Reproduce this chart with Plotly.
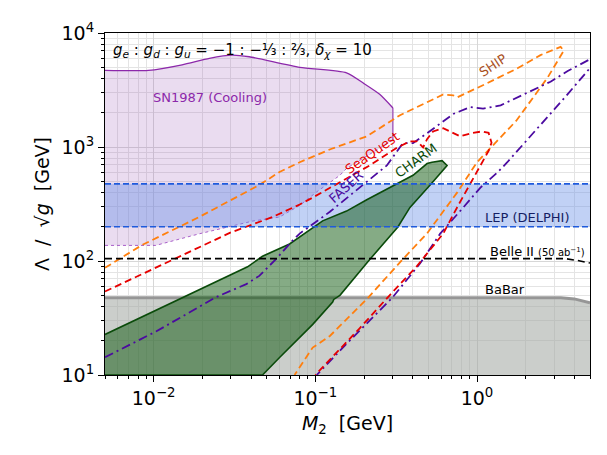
import numpy as np
import plotly.graph_objects as go

# --- data (GeV) ---
sn_up_x = [0.005, 0.0093, 0.015, 0.0221, 0.0306, 0.039, 0.08, 0.156, 0.2, 0.25, 0.302]
sn_up_y = [4700, 4700, 5260, 6000, 6400, 6190, 5000, 4470, 3600, 2900, 2200]
sn_lo_x = [0.005, 0.0103, 0.0191, 0.0294, 0.041, 0.06, 0.08, 0.102, 0.142, 0.156, 0.302]
sn_lo_y = [137, 137, 173, 200, 224, 243, 307, 404, 565, 649, 1150]

lep_lo = 200
lep_hi = 475

belle_x = [0.005, 3.5, 4.2, 5.0]
belle_y = [105, 105, 101, 96]

babar_x = [0.005, 3.3, 4.0, 4.5, 5.0]
babar_y = [47.5, 47.5, 46.5, 44.5, 43]

charm_x = [0.005, 0.0381, 0.0471, 0.0693, 0.111, 0.156, 0.208, 0.32, 0.402, 0.491, 0.527,
           0.608, 0.653, 0.513, 0.385, 0.324, 0.217, 0.142, 0.135, 0.13, 0.128, 0.0964,
           0.0603, 0.0471, 0.005]
charm_y = [22.7, 88.9, 110, 141, 225, 274, 345, 473, 565, 716, 735,
           760, 689, 465, 295, 199, 103, 50, 47.5, 46, 43.7, 27.8,
           14.3, 10, 10]

seaquest_x = [0.005, 0.0138, 0.03, 0.0543, 0.08, 0.0963, 0.142, 0.217, 0.32, 0.385, 0.426,
              0.464, 0.491, 0.535, 0.618, 0.703, 0.788, 0.935, 1.08, 1.18, 1.23, 1.18, 1.05,
              0.92, 0.77, 0.618, 0.426, 0.289, 0.188, 0.1]
seaquest_y = [54, 106, 178, 243, 313, 360, 492, 689, 987, 1120, 1120,
              990, 1170, 1370, 1460, 1330, 1240, 1330, 1370, 1330, 1090, 925, 689,
              500, 313, 174, 90.6, 50.3, 25.7, 10]

faser_x = [0.005, 0.0104, 0.0244, 0.0374, 0.045, 0.0575, 0.0723, 0.08, 0.123, 0.197, 0.277,
           0.348, 0.402, 0.491, 0.592, 0.713, 0.908, 1.09, 1.40, 1.78, 2.24, 2.85, 3.64,
           4.9, 5.6, 5.2, 3.64, 2.24, 1.54, 1.34, 1.05, 0.823, 0.592, 0.444, 0.298, 0.156, 0.102]
faser_y = [14.3, 24.2, 48.3, 62.7, 74, 105, 151, 174, 270, 464, 689,
           1080, 1080, 1320, 1600, 1950, 2240, 2170, 2320, 2730, 3210, 3740, 4640,
           5800, 5800, 5260, 2910, 1330, 735, 600, 440, 295, 174, 95, 47.3, 18.8, 10]

ship_x = [0.005, 0.00847, 0.0191, 0.0294, 0.045, 0.06, 0.08, 0.125, 0.208, 0.334, 0.491,
          0.618, 0.713, 0.755, 1.12, 1.78, 2.47, 3.29, 3.44, 2.73, 1.75, 1.26, 1.0, 0.755,
          0.49, 0.344, 0.211, 0.123, 0.0963, 0.08, 0.0744]
ship_y = [87.1, 138, 243, 334, 464, 603, 735, 961, 1240, 1900, 2470,
          2890, 2840, 2730, 3550, 4900, 6400, 7550, 7000, 4050, 1700, 1050, 735, 400,
          174, 102, 47.3, 22, 17.4, 11.7, 10]

x_ticks = [0.01, 0.1, 1]
x_ticktext = ["10<sup>−2</sup>", "10<sup>−1</sup>", "10<sup>0</sup>"]
y_ticks = [10, 100, 1000, 10000]
y_ticktext = ["10<sup>1</sup>", "10<sup>2</sup>", "10<sup>3</sup>", "10<sup>4</sup>"]

FONT = "DejaVu Sans"
x_lo, x_hi = 0.005, 5.0

fig = go.Figure()

# BaBar (grey region)
fig.add_trace(go.Scatter(x=babar_x + [x_hi, x_lo], y=babar_y + [10, 10], fill="toself",
                         fillcolor="rgba(160,165,160,0.55)", line=dict(width=0), mode="lines",
                         hoverinfo="skip"))
fig.add_trace(go.Scatter(x=babar_x, y=babar_y, mode="lines",
                         line=dict(color="rgb(150,150,150)", width=3)))

# SN1987 cooling
fig.add_trace(go.Scatter(x=sn_up_x + sn_lo_x[::-1], y=sn_up_y + sn_lo_y[::-1], fill="toself",
                         fillcolor="rgba(150,80,180,0.2)", line=dict(width=0), mode="lines"))
fig.add_trace(go.Scatter(x=sn_up_x, y=sn_up_y, mode="lines", line_shape="spline",
                         line=dict(color="rgb(140,40,170)", width=1.3, smoothing=0.6)))
fig.add_trace(go.Scatter(x=sn_lo_x, y=sn_lo_y, mode="lines",
                         line=dict(color="rgb(150,60,190)", width=0.8, dash="dot")))
fig.add_trace(go.Scatter(x=[sn_up_x[-1], sn_lo_x[-1]], y=[sn_up_y[-1], sn_lo_y[-1]], mode="lines",
                         line=dict(color="rgb(140,40,170)", width=1)))

# LEP band
fig.add_trace(go.Scatter(x=[x_lo, x_hi, x_hi, x_lo], y=[lep_lo, lep_lo, lep_hi, lep_hi],
                         fill="toself", fillcolor="rgba(100,140,230,0.4)", line=dict(width=0),
                         mode="lines"))

# CHARM
fig.add_trace(go.Scatter(x=charm_x, y=charm_y, fill="toself", fillcolor="rgba(0,80,0,0.48)",
                         mode="lines", line=dict(color="rgb(10,75,10)", width=1.6)))

# projections
fig.add_trace(go.Scatter(x=ship_x, y=ship_y, mode="lines",
                         line=dict(color="#ff7f0e", width=1.8, dash="7px,4px")))
fig.add_trace(go.Scatter(x=faser_x, y=faser_y, mode="lines",
                         line=dict(color="rgb(75,10,160)", width=1.8, dash="9px,4px,2px,4px")))
fig.add_trace(go.Scatter(x=seaquest_x, y=seaquest_y, mode="lines",
                         line=dict(color="rgb(230,0,0)", width=1.8, dash="7px,4px")))
fig.add_trace(go.Scatter(x=belle_x, y=belle_y, mode="lines",
                         line=dict(color="black", width=1.6, dash="7px,4px")))
for v in [lep_lo, lep_hi]:
    fig.add_trace(go.Scatter(x=[x_lo, x_hi], y=[v, v], mode="lines",
                             line=dict(color="rgb(30,90,220)", width=1.6, dash="6px,3px")))

def label(text, x, y, color, angle=0, size=13):
    fig.add_annotation(x=np.log10(x), y=np.log10(y), text=text, showarrow=False,
                       textangle=angle, font=dict(family=FONT, size=size, color=color))

label("SN1987 (Cooling)", 0.0224, 2730, "rgb(140,40,170)")
label("SHIP", 1.25, 5200, "rgb(170,80,30)", -33)
label("SeaQuest", 0.227, 889, "rgb(230,0,0)", -35)
label("FASER", 0.156, 447, "rgb(75,10,160)", -42)
label("CHARM", 0.42, 759, "rgb(10,75,10)", -36)
label("LEP (DELPHI)", 2.05, 243, "rgb(20,30,100)")
label("Belle II <span style='font-size:10px'>(50 ab<sup>−1</sup>)</span>", 2.37, 122, "black")
label("BaBar", 1.5, 56.5, "black")

fig.add_annotation(xref="paper", yref="paper", x=0.012, y=0.95, xanchor="left", yanchor="middle",
                   showarrow=False,
                   text="<i>g<sub>e</sub></i> : <i>g<sub>d</sub></i> : <i>g<sub>u</sub></i> = −1 : −⅓ : ⅔, <i>δ<sub>χ</sub></i> = 10",
                   font=dict(family=FONT, size=15, color="black"))

axis_common = dict(type="log", showline=True, mirror=True, linecolor="black", linewidth=1.2,
                   ticks="outside", ticklen=6, tickcolor="black",
                   showgrid=True, gridcolor="rgb(215,215,215)", gridwidth=1,
                   minor=dict(ticks="outside", ticklen=3, tickcolor="black", showgrid=True,
                              gridcolor="rgb(228,228,228)", dtick="D1"),
                   tickfont=dict(family=FONT, size=19, color="black"), zeroline=False)

fig.update_xaxes(range=[np.log10(x_lo), np.log10(x_hi)], tickvals=x_ticks, ticktext=x_ticktext,
                 title=dict(text="<i>M</i><sub>2</sub>  [GeV]", font=dict(family=FONT, size=19),
                            standoff=8), **axis_common)
fig.update_yaxes(range=[1, 4], tickvals=y_ticks, ticktext=y_ticktext,
                 title=dict(text="Λ  /  √<i>g</i>  [GeV]", font=dict(family=FONT, size=19),
                            standoff=6), **axis_common)

fig.update_layout(width=607, height=455, margin=dict(l=97, r=25, t=16, b=88),
                  plot_bgcolor="white", paper_bgcolor="white", showlegend=False,
                  font=dict(family=FONT, color="black"))

fig.write_html("out.html")
